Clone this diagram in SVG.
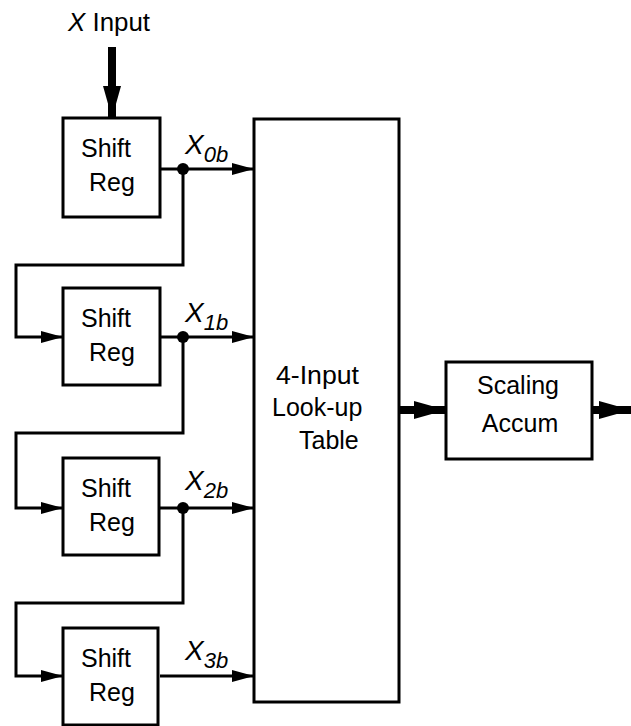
<svg xmlns="http://www.w3.org/2000/svg" width="631" height="726" viewBox="0 0 631 726">
  <style>
    .box { fill: #fff; stroke: #000; stroke-width: 3; }
    .wire { fill: none; stroke: #000; stroke-width: 3; }
    .bus { fill: none; stroke: #000; stroke-width: 8; }
    .lbl { font-family: "Liberation Sans", Arial, sans-serif; font-size: 25px; fill: #000; }
    .it { font-style: italic; }
    .var { font-size: 28px; font-style: italic; }
    .sub { font-size: 22px; font-style: italic; }
  </style>
  <defs>
    <marker id="arr" viewBox="0 0 22 12" refX="22" refY="6" markerWidth="22" markerHeight="12" markerUnits="userSpaceOnUse" orient="auto">
      <path d="M0,0 L22,6 L0,12 Z" fill="#000"/>
    </marker>
    <marker id="bigarr" viewBox="0 0 32 18" refX="32" refY="9" markerWidth="32" markerHeight="18" markerUnits="userSpaceOnUse" orient="auto">
      <path d="M0,0 L32,9 L0,18 Z" fill="#000"/>
    </marker>
  </defs>

  <!-- input label -->
  <g id="x-input">
    <text class="lbl" x="68" y="31" font-size="27" textLength="82" lengthAdjust="spacingAndGlyphs"><tspan class="it">X</tspan> Input</text>
  </g>

  <!-- connectors -->
  <g id="connectors">
    <path class="bus" d="M112,47 V118" marker-end="url(#bigarr)"/>
    <path class="wire" d="M160,169 H254" marker-end="url(#arr)"/>
    <path class="wire" d="M183,169 V265 H16 V337 H63" marker-end="url(#arr)"/>
    <path class="wire" d="M160,337 H254" marker-end="url(#arr)"/>
    <path class="wire" d="M183,337 V433 H16 V508 H63" marker-end="url(#arr)"/>
    <path class="wire" d="M160,508 H254" marker-end="url(#arr)"/>
    <path class="wire" d="M183,508 V603 H16 V676 H63" marker-end="url(#arr)"/>
    <path class="wire" d="M160,676 H254" marker-end="url(#arr)"/>
    <path class="bus" d="M399,410 H446" marker-end="url(#bigarr)"/>
    <path class="bus" d="M592,410 H631" marker-end="url(#bigarr)"/>
    <circle cx="183" cy="169" r="6"/>
    <circle cx="183" cy="337" r="6"/>
    <circle cx="183" cy="508" r="6"/>
  </g>

  <!-- bit labels -->
  <g id="bit-labels" class="lbl">
    <text x="185" y="154"><tspan class="var">X</tspan><tspan class="sub" dy="8">0b</tspan></text>
    <text x="185" y="322"><tspan class="var">X</tspan><tspan class="sub" dy="8">1b</tspan></text>
    <text x="185" y="490"><tspan class="var">X</tspan><tspan class="sub" dy="8">2b</tspan></text>
    <text x="185" y="660"><tspan class="var">X</tspan><tspan class="sub" dy="8">3b</tspan></text>
  </g>

  <g id="shift-reg-0">
    <rect class="box" x="63" y="118" width="97" height="99"/>
    <text class="lbl" x="106" y="157" text-anchor="middle">Shift</text>
    <text class="lbl" x="112" y="191" text-anchor="middle">Reg</text>
  </g>
  <g id="shift-reg-1">
    <rect class="box" x="63" y="288" width="97" height="97"/>
    <text class="lbl" x="106" y="327" text-anchor="middle">Shift</text>
    <text class="lbl" x="112" y="361" text-anchor="middle">Reg</text>
  </g>
  <g id="shift-reg-2">
    <rect class="box" x="63" y="458" width="96" height="97"/>
    <text class="lbl" x="106" y="497" text-anchor="middle">Shift</text>
    <text class="lbl" x="112" y="531" text-anchor="middle">Reg</text>
  </g>
  <g id="shift-reg-3">
    <rect class="box" x="63" y="628" width="95" height="97"/>
    <text class="lbl" x="106" y="667" text-anchor="middle">Shift</text>
    <text class="lbl" x="112" y="701" text-anchor="middle">Reg</text>
  </g>

  <g id="lookup-table">
    <rect class="box" x="254" y="119" width="145" height="583"/>
    <text class="lbl" x="276" y="384" textLength="83" lengthAdjust="spacingAndGlyphs">4-Input</text>
    <text class="lbl" x="272" y="416">Look-up</text>
    <text class="lbl" x="299" y="449">Table</text>
  </g>

  <g id="scaling-accum">
    <rect class="box" x="446" y="362" width="146" height="97"/>
    <text class="lbl" x="518" y="394" text-anchor="middle">Scaling</text>
    <text class="lbl" x="520" y="432" text-anchor="middle">Accum</text>
  </g>
</svg>
